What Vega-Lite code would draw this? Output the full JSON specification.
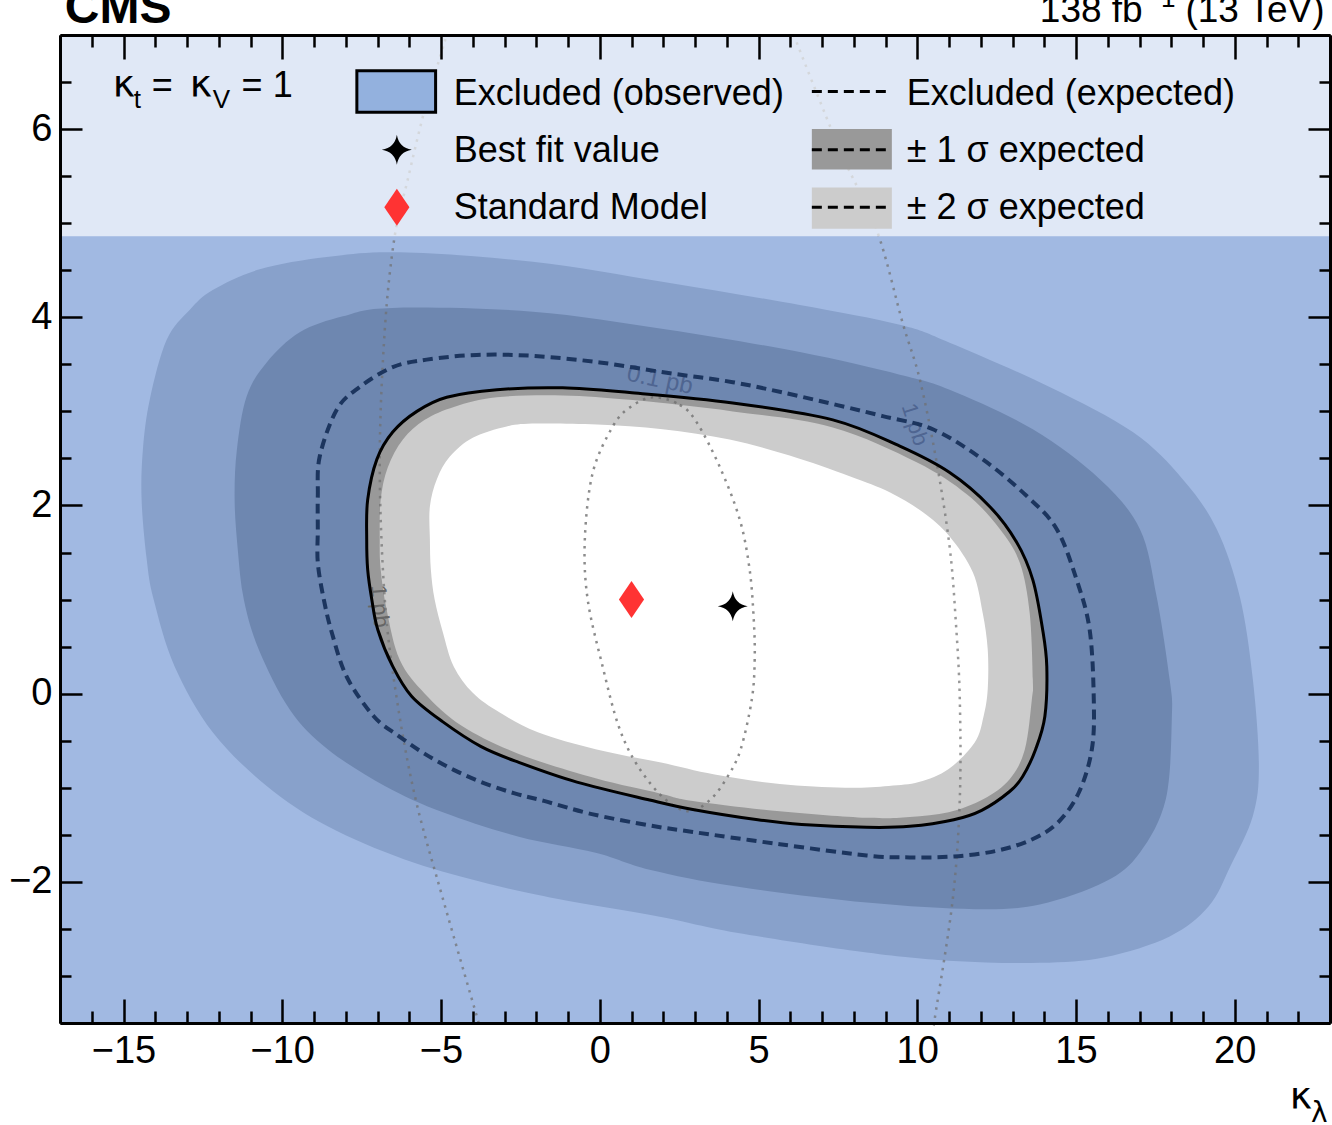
{
  "$schema": "https://vega.github.io/schema/vega-lite/v6.json",
  "width": 1270,
  "height": 988,
  "autosize": {"type": "none"},
  "padding": {"left": 60, "top": 35, "right": 2, "bottom": 102},
  "background": "white",
  "config": {
    "view": {"stroke": null, "fill": "#a1b9e2"},
    "font": "Liberation Sans",
    "axis": {"domainColor": "black", "domainWidth": 3, "tickColor": "black", "tickWidth": 2.5, "labelFont": "Liberation Sans", "labelFontSize": 38, "labelColor": "black", "grid": false}
  },
  "datasets": {
    "s2out": [{"x":-14.05,"y":1.00},{"x":-14.27,"y":1.43},{"x":-14.43,"y":2.06},{"x":-14.39,"y":2.59},{"x":-14.17,"y":3.13},{"x":-13.64,"y":3.76},{"x":-12.91,"y":4.08},{"x":-12.19,"y":4.29},{"x":-10.71,"y":4.51},{"x":-8.60,"y":4.64},{"x":-6.30,"y":4.69},{"x":-2.11,"y":4.59},{"x":2.11,"y":4.37},{"x":6.30,"y":4.13},{"x":9.45,"y":3.92},{"x":11.02,"y":3.73},{"x":14.17,"y":3.26},{"x":16.79,"y":2.78},{"x":18.36,"y":2.28},{"x":19.43,"y":1.75},{"x":20.16,"y":1.03},{"x":20.57,"y":0.15},{"x":20.76,"y":-0.77},{"x":20.57,"y":-1.30},{"x":19.87,"y":-1.83},{"x":19.18,"y":-2.26},{"x":17.95,"y":-2.58},{"x":15.91,"y":-2.80},{"x":13.86,"y":-2.86},{"x":11.15,"y":-2.84},{"x":8.41,"y":-2.75},{"x":4.31,"y":-2.54},{"x":1.89,"y":-2.37},{"x":-1.35,"y":-2.18},{"x":-3.75,"y":-2.00},{"x":-6.17,"y":-1.76},{"x":-8.57,"y":-1.41},{"x":-10.49,"y":-0.98},{"x":-12.19,"y":-0.41},{"x":-13.39,"y":0.29}],
    "s1out": [{"x":-11.21,"y":1.00},{"x":-11.40,"y":1.53},{"x":-11.50,"y":2.06},{"x":-11.43,"y":2.59},{"x":-11.12,"y":3.16},{"x":-10.49,"y":3.52},{"x":-9.45,"y":3.84},{"x":-8.09,"y":4.01},{"x":-6.52,"y":4.10},{"x":-2.11,"y":4.06},{"x":2.11,"y":3.87},{"x":6.30,"y":3.63},{"x":9.45,"y":3.39},{"x":11.02,"y":3.23},{"x":13.64,"y":2.81},{"x":15.75,"y":2.28},{"x":17.01,"y":1.75},{"x":17.54,"y":1.03},{"x":17.95,"y":0.15},{"x":18.02,"y":-0.24},{"x":17.83,"y":-1.12},{"x":17.01,"y":-1.69},{"x":15.91,"y":-2.00},{"x":13.86,"y":-2.24},{"x":11.81,"y":-2.29},{"x":8.41,"y":-2.22},{"x":4.31,"y":-2.05},{"x":1.57,"y":-1.87},{"x":-0.13,"y":-1.69},{"x":-2.55,"y":-1.52},{"x":-4.94,"y":-1.26},{"x":-6.77,"y":-0.98},{"x":-8.57,"y":-0.59},{"x":-9.76,"y":-0.17},{"x":-10.74,"y":0.47}],
    "obs": [{"x":-7.34,"y":1.64},{"x":-7.31,"y":2.06},{"x":-7.02,"y":2.49},{"x":-6.52,"y":2.78},{"x":-5.76,"y":3.00},{"x":-4.82,"y":3.15},{"x":-3.24,"y":3.23},{"x":-1.17,"y":3.25},{"x":0.94,"y":3.20},{"x":4.19,"y":3.09},{"x":7.34,"y":2.91},{"x":9.45,"y":2.63},{"x":11.02,"y":2.35},{"x":12.28,"y":1.99},{"x":13.13,"y":1.61},{"x":13.64,"y":1.21},{"x":13.95,"y":0.68},{"x":14.08,"y":0.29},{"x":14.02,"y":-0.24},{"x":13.73,"y":-0.59},{"x":13.32,"y":-0.88},{"x":12.91,"y":-1.04},{"x":12.03,"y":-1.24},{"x":11.15,"y":-1.34},{"x":9.76,"y":-1.41},{"x":8.41,"y":-1.42},{"x":6.36,"y":-1.39},{"x":4.98,"y":-1.34},{"x":2.93,"y":-1.23},{"x":1.57,"y":-1.13},{"x":-0.72,"y":-0.94},{"x":-2.55,"y":-0.73},{"x":-3.75,"y":-0.56},{"x":-4.94,"y":-0.30},{"x":-5.92,"y":-0.03},{"x":-6.52,"y":0.29},{"x":-6.99,"y":0.68},{"x":-7.18,"y":1.00},{"x":-7.31,"y":1.32}],
    "s1in": [{"x":-6.93,"y":1.64},{"x":-6.90,"y":2.06},{"x":-6.68,"y":2.40},{"x":-6.20,"y":2.70},{"x":-5.51,"y":2.91},{"x":-4.57,"y":3.05},{"x":-3.24,"y":3.15},{"x":-1.17,"y":3.17},{"x":1.04,"y":3.12},{"x":4.19,"y":3.00},{"x":7.34,"y":2.83},{"x":9.98,"y":2.46},{"x":11.56,"y":2.12},{"x":12.60,"y":1.75},{"x":13.23,"y":1.39},{"x":13.54,"y":0.86},{"x":13.64,"y":0.15},{"x":13.61,"y":-0.06},{"x":13.39,"y":-0.59},{"x":12.91,"y":-0.91},{"x":12.09,"y":-1.12},{"x":10.99,"y":-1.26},{"x":9.76,"y":-1.31},{"x":8.41,"y":-1.32},{"x":5.67,"y":-1.25},{"x":2.93,"y":-1.14},{"x":1.89,"y":-1.06},{"x":-0.13,"y":-0.90},{"x":-2.55,"y":-0.64},{"x":-4.35,"y":-0.34},{"x":-5.51,"y":0.00},{"x":-6.30,"y":0.36},{"x":-6.71,"y":0.89},{"x":-6.90,"y":1.32}],
    "s2in": [{"x":-5.35,"y":1.64},{"x":-5.35,"y":1.99},{"x":-5.13,"y":2.28},{"x":-4.72,"y":2.52},{"x":-4.00,"y":2.72},{"x":-2.93,"y":2.84},{"x":-1.98,"y":2.87},{"x":-0.09,"y":2.86},{"x":1.98,"y":2.81},{"x":4.09,"y":2.70},{"x":5.98,"y":2.53},{"x":7.87,"y":2.31},{"x":9.13,"y":2.14},{"x":10.17,"y":1.93},{"x":11.02,"y":1.67},{"x":11.75,"y":1.29},{"x":12.06,"y":0.86},{"x":12.22,"y":0.47},{"x":12.22,"y":0.05},{"x":12.09,"y":-0.24},{"x":11.81,"y":-0.52},{"x":10.99,"y":-0.80},{"x":10.05,"y":-0.94},{"x":9.10,"y":-0.98},{"x":7.72,"y":-1.00},{"x":5.67,"y":-0.96},{"x":3.62,"y":-0.86},{"x":1.89,"y":-0.73},{"x":-0.13,"y":-0.59},{"x":-1.95,"y":-0.41},{"x":-3.15,"y":-0.20},{"x":-4.00,"y":0.01},{"x":-4.60,"y":0.29},{"x":-4.94,"y":0.65},{"x":-5.20,"y":1.00},{"x":-5.32,"y":1.32}],
    "exp": [{"x":-8.88,"y":1.75},{"x":-8.88,"y":2.10},{"x":-8.82,"y":2.52},{"x":-8.28,"y":3.02},{"x":-7.56,"y":3.26},{"x":-6.52,"y":3.47},{"x":-5.45,"y":3.55},{"x":-3.87,"y":3.60},{"x":-2.11,"y":3.59},{"x":0.00,"y":3.52},{"x":2.11,"y":3.41},{"x":4.19,"y":3.31},{"x":6.30,"y":3.16},{"x":8.91,"y":2.95},{"x":10.49,"y":2.81},{"x":12.06,"y":2.49},{"x":13.45,"y":2.10},{"x":14.39,"y":1.75},{"x":15.02,"y":1.21},{"x":15.43,"y":0.68},{"x":15.56,"y":-0.06},{"x":15.50,"y":-0.59},{"x":15.09,"y":-1.05},{"x":14.43,"y":-1.37},{"x":13.61,"y":-1.55},{"x":12.50,"y":-1.67},{"x":11.15,"y":-1.73},{"x":9.76,"y":-1.74},{"x":8.41,"y":-1.72},{"x":5.67,"y":-1.60},{"x":2.93,"y":-1.47},{"x":1.57,"y":-1.40},{"x":-0.25,"y":-1.28},{"x":-1.76,"y":-1.14},{"x":-2.68,"y":-1.06},{"x":-3.65,"y":-0.95},{"x":-4.60,"y":-0.81},{"x":-5.51,"y":-0.64},{"x":-6.33,"y":-0.45},{"x":-7.12,"y":-0.24},{"x":-7.97,"y":0.18},{"x":-8.44,"y":0.65},{"x":-8.69,"y":1.00},{"x":-8.88,"y":1.39}],
    "pb1a": [{"x":-3.81,"y":-3.5},{"x":-4.94,"y":-2.18},{"x":-5.80,"y":-1.12},{"x":-6.39,"y":-0.06},{"x":-6.77,"y":1.00},{"x":-6.93,"y":2.46},{"x":-6.77,"y":3.87},{"x":-6.46,"y":4.86},{"x":-6.05,"y":5.46},{"x":-5.51,"y":6.21},{"x":-4.82,"y":7.0}],
    "pb1b": [{"x":6.11,"y":7.0},{"x":7.56,"y":5.78},{"x":8.72,"y":4.93},{"x":9.54,"y":3.94},{"x":10.08,"y":3.34},{"x":10.61,"y":2.46},{"x":11.02,"y":1.56},{"x":11.21,"y":0.79},{"x":11.34,"y":-0.06},{"x":11.34,"y":-1.12},{"x":11.12,"y":-2.18},{"x":10.58,"y":-3.39},{"x":10.52,"y":-3.5}],
    "pb01": [{"x":1.67,"y":3.15},{"x":2.52,"y":3.07},{"x":3.06,"y":2.88},{"x":3.78,"y":2.41},{"x":4.41,"y":1.85},{"x":4.72,"y":1.32},{"x":4.85,"y":0.79},{"x":4.88,"y":0.36},{"x":4.79,"y":-0.06},{"x":4.44,"y":-0.59},{"x":4.03,"y":-0.88},{"x":3.50,"y":-1.12},{"x":2.83,"y":-1.25},{"x":2.05,"y":-1.12},{"x":1.20,"y":-0.77},{"x":0.60,"y":-0.35},{"x":0.09,"y":0.29},{"x":-0.38,"y":1.00},{"x":-0.47,"y":1.64},{"x":-0.22,"y":2.35},{"x":0.41,"y":2.84},{"x":0.94,"y":3.04}],
    "stars": [{"x":4.19,"y":0.93},{"x":-6.39,"y":5.78}],
    "diamonds": [{"x":1.0,"y":1.0},{"x":-6.39,"y":5.17}],
    "legdash": [{"x":6.68,"x2":9.01,"y":6.40},{"x":6.68,"x2":9.01,"y":5.78},{"x":6.68,"x2":9.01,"y":5.17}],
    "legtext": [{"x":-4.60,"y":6.26,"t":"Excluded (observed)"},{"x":-4.60,"y":5.65,"t":"Best fit value"},{"x":-4.60,"y":5.04,"t":"Standard Model"},{"x":9.67,"y":6.26,"t":"Excluded (expected)"},{"x":9.67,"y":5.65,"t":"± 1 σ expected"},{"x":9.67,"y":5.04,"t":"± 2 σ expected"}],
    "kappas": [{"x":-15.34,"y":6.34},{"x":-12.91,"y":6.34},{"x":21.73,"y":-4.41}]
  },
  "resolve": {"axis": {"x": "independent", "y": "independent"}},
  "layer": [
    {
      "data": {"name": "s2out"},
      "mark": {"type": "line", "filled": true, "fill": "#88a1cb", "strokeOpacity": 0, "interpolate": "cardinal-closed"},
      "encoding": {
        "x": {"field": "x", "type": "quantitative", "scale": {"domain": [-17, 23], "nice": false, "zero": false},
          "axis": {"orient": "bottom", "zindex": 2, "title": null, "format": ".0f", "values": [-17,-16,-15,-14,-13,-12,-11,-10,-9,-8,-7,-6,-5,-4,-3,-2,-1,0,1,2,3,4,5,6,7,8,9,10,11,12,13,14,15,16,17,18,19,20,21,22,23],
            "tickSize": {"condition": {"test": "datum.value % 5 === 0", "value": -24}, "value": -12},
            "labelExpr": "datum.value % 5 === 0 ? datum.label : ''", "labelPadding": 33, "labelOverlap": false, "labelFlush": false, "labelBound": false}},
        "y": {"field": "y", "type": "quantitative", "scale": {"domain": [-3.5, 7], "nice": false, "zero": false},
          "axis": {"orient": "left", "zindex": 2, "title": null, "format": ".0f", "values": [-3.5,-3,-2.5,-2,-1.5,-1,-0.5,0,0.5,1,1.5,2,2.5,3,3.5,4,4.5,5,5.5,6,6.5,7],
            "tickSize": {"condition": {"test": "datum.value % 2 === 0", "value": -22}, "value": -11},
            "labelExpr": "datum.value % 2 === 0 ? datum.label : ''", "labelPadding": 30, "labelOverlap": false, "labelFlush": false, "labelBound": false}},
        "order": {"value": null}
      }
    },
    {
      "data": {"name": "s1out"},
      "mark": {"type": "line", "filled": true, "fill": "#6e87b0", "strokeOpacity": 0, "interpolate": "cardinal-closed"},
      "encoding": {
        "x": {"field": "x", "type": "quantitative",
          "axis": {"orient": "top", "zindex": 2, "title": null, "labels": false, "values": [-17,-16,-15,-14,-13,-12,-11,-10,-9,-8,-7,-6,-5,-4,-3,-2,-1,0,1,2,3,4,5,6,7,8,9,10,11,12,13,14,15,16,17,18,19,20,21,22,23],
            "tickSize": {"condition": {"test": "datum.value % 5 === 0", "value": -24}, "value": -12}}},
        "y": {"field": "y", "type": "quantitative",
          "axis": {"orient": "right", "zindex": 2, "title": null, "labels": false, "values": [-3.5,-3,-2.5,-2,-1.5,-1,-0.5,0,0.5,1,1.5,2,2.5,3,3.5,4,4.5,5,5.5,6,6.5,7],
            "tickSize": {"condition": {"test": "datum.value % 2 === 0", "value": -22}, "value": -11}}},
        "order": {"value": null}
      }
    },
    {
      "data": {"name": "obs"},
      "mark": {"type": "line", "filled": true, "fill": "#999999", "strokeOpacity": 0, "interpolate": "cardinal-closed"},
      "encoding": {"x": {"field": "x", "type": "quantitative", "axis": null}, "y": {"field": "y", "type": "quantitative", "axis": null}, "order": {"value": null}}
    },
    {
      "data": {"name": "s1in"},
      "mark": {"type": "line", "filled": true, "fill": "#cccccc", "strokeOpacity": 0, "interpolate": "cardinal-closed"},
      "encoding": {"x": {"field": "x", "type": "quantitative", "axis": null}, "y": {"field": "y", "type": "quantitative", "axis": null}, "order": {"value": null}}
    },
    {
      "data": {"name": "s2in"},
      "mark": {"type": "line", "filled": true, "fill": "#ffffff", "strokeOpacity": 0, "interpolate": "cardinal-closed"},
      "encoding": {"x": {"field": "x", "type": "quantitative", "axis": null}, "y": {"field": "y", "type": "quantitative", "axis": null}, "order": {"value": null}}
    },
    {
      "data": {"name": "pb1a"},
      "mark": {"type": "line", "stroke": "#6f6f6f", "strokeOpacity": 0.7, "strokeWidth": 2.5, "strokeDash": [2.5, 5.5], "interpolate": "cardinal"},
      "encoding": {"x": {"field": "x", "type": "quantitative", "axis": null}, "y": {"field": "y", "type": "quantitative", "axis": null}, "order": {"value": null}}
    },
    {
      "data": {"name": "pb1b"},
      "mark": {"type": "line", "stroke": "#6f6f6f", "strokeOpacity": 0.7, "strokeWidth": 2.5, "strokeDash": [2.5, 5.5], "interpolate": "cardinal"},
      "encoding": {"x": {"field": "x", "type": "quantitative", "axis": null}, "y": {"field": "y", "type": "quantitative", "axis": null}, "order": {"value": null}}
    },
    {
      "data": {"name": "pb01"},
      "mark": {"type": "line", "stroke": "#6f6f6f", "strokeOpacity": 0.8, "strokeWidth": 2.5, "strokeDash": [2.5, 5.5], "interpolate": "cardinal-closed"},
      "encoding": {"x": {"field": "x", "type": "quantitative", "axis": null}, "y": {"field": "y", "type": "quantitative", "axis": null}, "order": {"value": null}}
    },
    {
      "data": {"values": [{}]},
      "mark": {"type": "text", "angle": 12, "fontSize": 24, "color": "#4f6591", "align": "center", "baseline": "middle"},
      "encoding": {"x": {"datum": 1.89, "type": "quantitative", "axis": null}, "y": {"datum": 3.33, "type": "quantitative", "axis": null}, "text": {"value": "0.1 pb"}}
    },
    {
      "data": {"values": [{}]},
      "mark": {"type": "text", "angle": 85, "fontSize": 22, "color": "#666666", "align": "center", "baseline": "middle"},
      "encoding": {"x": {"datum": -6.93, "type": "quantitative", "axis": null}, "y": {"datum": 0.93, "type": "quantitative", "axis": null}, "text": {"value": "1 pb"}}
    },
    {
      "data": {"values": [{}]},
      "mark": {"type": "text", "angle": 72, "fontSize": 22, "color": "#4f6591", "align": "center", "baseline": "middle"},
      "encoding": {"x": {"datum": 9.92, "type": "quantitative", "axis": null}, "y": {"datum": 2.86, "type": "quantitative", "axis": null}, "text": {"value": "1 pb"}}
    },
    {
      "data": {"name": "exp"},
      "mark": {"type": "line", "stroke": "#1c355e", "strokeWidth": 4, "strokeDash": [10, 6], "interpolate": "cardinal-closed"},
      "encoding": {"x": {"field": "x", "type": "quantitative", "axis": null}, "y": {"field": "y", "type": "quantitative", "axis": null}, "order": {"value": null}}
    },
    {
      "data": {"name": "obs"},
      "mark": {"type": "line", "stroke": "black", "strokeWidth": 3, "interpolate": "cardinal-closed"},
      "encoding": {"x": {"field": "x", "type": "quantitative", "axis": null}, "y": {"field": "y", "type": "quantitative", "axis": null}, "order": {"value": null}}
    },
    {
      "data": {"values": [{}]},
      "mark": {"type": "rect", "fill": "white", "opacity": 0.67},
      "encoding": {"x": {"datum": -17, "type": "quantitative", "axis": null}, "x2": {"datum": 23}, "y": {"datum": 4.86, "type": "quantitative", "axis": null}, "y2": {"datum": 7}}
    },
    {
      "data": {"values": [{}]},
      "mark": {"type": "rect", "fill": "#93b1de", "stroke": "black", "strokeWidth": 3},
      "encoding": {"x": {"datum": -7.65, "type": "quantitative", "axis": null}, "x2": {"datum": -5.17}, "y": {"datum": 6.18, "type": "quantitative", "axis": null}, "y2": {"datum": 6.62}}
    },
    {
      "data": {"values": [{}]},
      "mark": {"type": "rect", "fill": "#999999"},
      "encoding": {"x": {"datum": 6.68, "type": "quantitative", "axis": null}, "x2": {"datum": 9.20}, "y": {"datum": 5.57, "type": "quantitative", "axis": null}, "y2": {"datum": 6.00}}
    },
    {
      "data": {"values": [{}]},
      "mark": {"type": "rect", "fill": "#cccccc"},
      "encoding": {"x": {"datum": 6.68, "type": "quantitative", "axis": null}, "x2": {"datum": 9.20}, "y": {"datum": 4.94, "type": "quantitative", "axis": null}, "y2": {"datum": 5.38}}
    },
    {
      "data": {"name": "legdash"},
      "mark": {"type": "rule", "stroke": "black", "strokeWidth": 3, "strokeDash": [10, 6]},
      "encoding": {"x": {"field": "x", "type": "quantitative", "axis": null}, "x2": {"field": "x2"}, "y": {"field": "y", "type": "quantitative", "axis": null}}
    },
    {
      "data": {"name": "stars"},
      "mark": {"type": "point", "shape": "M0,-1 Q0.14,-0.14 1,0 Q0.14,0.14 0,1 Q-0.14,0.14 -1,0 Q-0.14,-0.14 0,-1 Z", "size": 900, "filled": true, "color": "black", "opacity": 1, "strokeWidth": 0},
      "encoding": {"x": {"field": "x", "type": "quantitative", "axis": null}, "y": {"field": "y", "type": "quantitative", "axis": null}}
    },
    {
      "data": {"name": "diamonds"},
      "mark": {"type": "point", "shape": "M0,-1 L0.68,0 L0,1 L-0.68,0 Z", "size": 1369, "filled": true, "color": "#ff3333", "opacity": 1, "strokeWidth": 0},
      "encoding": {"x": {"field": "x", "type": "quantitative", "axis": null}, "y": {"field": "y", "type": "quantitative", "axis": null}}
    },
    {
      "data": {"name": "legtext"},
      "mark": {"type": "text", "align": "left", "baseline": "alphabetic", "fontSize": 36, "font": "Liberation Sans", "color": "black"},
      "encoding": {"x": {"field": "x", "type": "quantitative", "axis": null}, "y": {"field": "y", "type": "quantitative", "axis": null}, "text": {"field": "t"}}
    },
    {
      "data": {"name": "kappas"},
      "mark": {"type": "text", "align": "left", "baseline": "alphabetic", "fontSize": 38, "font": "DejaVu Sans", "color": "black"},
      "encoding": {"x": {"field": "x", "type": "quantitative", "axis": null}, "y": {"field": "y", "type": "quantitative", "axis": null}, "text": {"value": "κ"}}
    },
    {
      "data": {"values": [{}]},
      "mark": {"type": "text", "align": "left", "baseline": "alphabetic", "fontSize": 26, "font": "Liberation Sans", "color": "black"},
      "encoding": {"x": {"datum": -14.68, "type": "quantitative", "axis": null}, "y": {"datum": 6.22, "type": "quantitative", "axis": null}, "text": {"value": "t"}}
    },
    {
      "data": {"values": [{}]},
      "mark": {"type": "text", "align": "left", "baseline": "alphabetic", "fontSize": 26, "font": "Liberation Sans", "color": "black"},
      "encoding": {"x": {"datum": -12.19, "type": "quantitative", "axis": null}, "y": {"datum": 6.22, "type": "quantitative", "axis": null}, "text": {"value": "V"}}
    },
    {
      "data": {"values": [{}]},
      "mark": {"type": "text", "align": "left", "baseline": "alphabetic", "fontSize": 36, "font": "Liberation Sans", "color": "black"},
      "encoding": {"x": {"datum": -14.11, "type": "quantitative", "axis": null}, "y": {"datum": 6.34, "type": "quantitative", "axis": null}, "text": {"value": "="}}
    },
    {
      "data": {"values": [{}]},
      "mark": {"type": "text", "align": "left", "baseline": "alphabetic", "fontSize": 36, "font": "Liberation Sans", "color": "black"},
      "encoding": {"x": {"datum": -11.28, "type": "quantitative", "axis": null}, "y": {"datum": 6.34, "type": "quantitative", "axis": null}, "text": {"value": "= 1"}}
    },
    {
      "data": {"values": [{}]},
      "mark": {"type": "text", "align": "left", "baseline": "alphabetic", "fontSize": 28, "font": "DejaVu Sans", "color": "black"},
      "encoding": {"x": {"datum": 22.40, "type": "quantitative", "axis": null}, "y": {"datum": -4.55, "type": "quantitative", "axis": null}, "text": {"value": "λ"}}
    },
    {
      "data": {"values": [{}]},
      "mark": {"type": "text", "align": "left", "baseline": "alphabetic", "fontSize": 48, "fontWeight": "bold", "font": "Liberation Sans", "color": "black"},
      "encoding": {"x": {"datum": -16.85, "type": "quantitative", "axis": null}, "y": {"datum": 7.13, "type": "quantitative", "axis": null}, "text": {"value": "CMS"}}
    },
    {
      "data": {"values": [{}]},
      "mark": {"type": "text", "align": "right", "baseline": "alphabetic", "fontSize": 37, "font": "Liberation Sans", "color": "black"},
      "encoding": {"x": {"datum": 17.10, "type": "quantitative", "axis": null}, "y": {"datum": 7.14, "type": "quantitative", "axis": null}, "text": {"value": "138 fb"}}
    },
    {
      "data": {"values": [{}]},
      "mark": {"type": "text", "align": "left", "baseline": "alphabetic", "fontSize": 26, "font": "Liberation Sans", "color": "black"},
      "encoding": {"x": {"datum": 17.20, "type": "quantitative", "axis": null}, "y": {"datum": 7.30, "type": "quantitative", "axis": null}, "text": {"value": "−1"}}
    },
    {
      "data": {"values": [{}]},
      "mark": {"type": "text", "align": "right", "baseline": "alphabetic", "fontSize": 37, "font": "Liberation Sans", "color": "black"},
      "encoding": {"x": {"datum": 22.83, "type": "quantitative", "axis": null}, "y": {"datum": 7.14, "type": "quantitative", "axis": null}, "text": {"value": "(13 TeV)"}}
    }
  ]
}
